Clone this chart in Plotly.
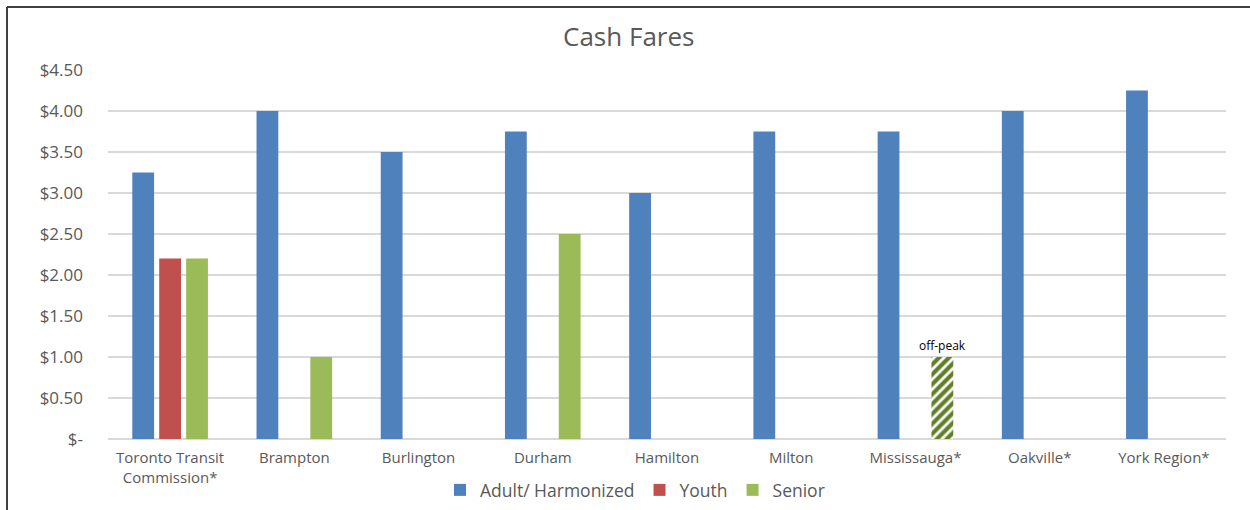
import plotly.graph_objects as go

categories = ["Toronto Transit<br>Commission*", "Brampton", "Burlington", "Durham",
              "Hamilton", "Milton", "Mississauga*", "Oakville*", "York Region*"]
adult = [3.25, 4.00, 3.50, 3.75, 3.00, 3.75, 3.75, 4.00, 4.25]
youth = [2.20, None, None, None, None, None, None, None, None]
senior = [2.20, 1.00, None, 2.50, None, None, 1.00, None, None]
senior_pattern = ["", "", "", "", "", "", "/", "", ""]
senior_note = ["", "", "", "", "", "", "off-peak", "", ""]
ytick_vals = [0, 0.5, 1.0, 1.5, 2.0, 2.5, 3.0, 3.5, 4.0, 4.5]
ytick_text = ["$-", "$0.50", "$1.00", "$1.50", "$2.00", "$2.50", "$3.00", "$3.50", "$4.00", "$4.50"]

FONT = "Open Sans, sans-serif"
GREY = "#595959"

fig = go.Figure()
fig.add_trace(go.Bar(name="Adult/ Harmonized", x=categories, y=adult,
                     marker=dict(color="#4F81BD", line=dict(width=0))))
fig.add_trace(go.Bar(name="Youth", x=categories, y=youth,
                     marker=dict(color="#C0504D", line=dict(width=0))))
fig.add_trace(go.Bar(name="Senior", x=categories, y=senior,
                     marker=dict(color="#9BBB59", line=dict(width=0),
                                 pattern=dict(shape=senior_pattern, fgcolor="#5F7F25",
                                              bgcolor="white", size=7, solidity=0.6,
                                              fgopacity=1)),
                     text=senior_note, textposition="outside", constraintext="none",
                     textfont=dict(color="black", size=12, family=FONT),
                     cliponaxis=False))

fig.update_layout(
    width=1250, height=510,
    margin=dict(l=108, r=24, t=70, b=71),
    paper_bgcolor="white", plot_bgcolor="white",
    barmode="group", bargap=0.35, bargroupgap=0.19,
    font=dict(family=FONT, color=GREY),
    title=dict(text="Cash Fares", x=0.503, xref="container", xanchor="center",
               y=1 - 37 / 510, yref="container", yanchor="middle",
               font=dict(size=26, color=GREY, family=FONT)),
    legend=dict(orientation="h", x=0.508, xref="container", xanchor="center",
                y=1 - 490 / 510, yref="container", yanchor="middle",
                font=dict(size=17.5, color=GREY, family=FONT), traceorder="normal",
                itemwidth=30),
    showlegend=True,
)
fig.update_xaxes(showgrid=False, showline=False, zeroline=False, automargin=False,
                 tickfont=dict(size=15, color=GREY, family=FONT), ticks="",
                 ticklabelstandoff=8)
fig.update_yaxes(range=[0, 4.5], tickvals=ytick_vals, ticktext=ytick_text,
                 showgrid=True, gridcolor="#D9D9D9", gridwidth=1.5, automargin=False,
                 zeroline=True, zerolinecolor="#D9D9D9", zerolinewidth=1.5,
                 showline=False, ticks="", ticklabelstandoff=24,
                 tickfont=dict(size=17, color=GREY, family=FONT))

# chart border (top and left edges visible)
fig.add_shape(type="line", xref="paper", yref="paper",
              x0=(7 - 108) / 1118, x1=1.05, y0=1 + 63 / 369, y1=1 + 63 / 369,
              line=dict(color="#404040", width=2))
fig.add_shape(type="line", xref="paper", yref="paper",
              x0=(7 - 108) / 1118, x1=(7 - 108) / 1118, y0=1 + 63 / 369, y1=-0.3,
              line=dict(color="#404040", width=2))

fig.write_html("out.html", config={"displayModeBar": False},
               post_script="document.body.style.margin='0';document.body.style.overflow='hidden';")
